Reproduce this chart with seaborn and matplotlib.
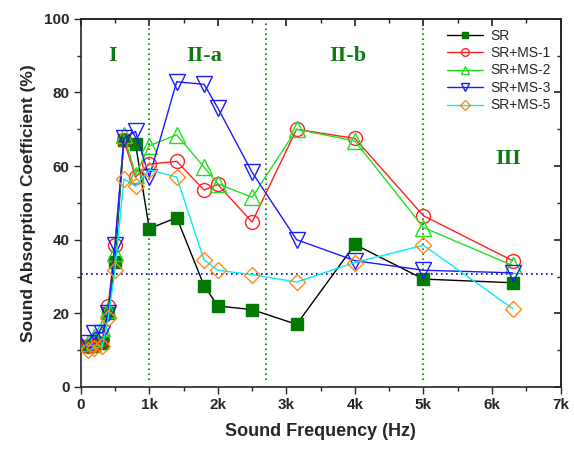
import matplotlib
matplotlib.use("Agg")
import matplotlib.pyplot as plt
import seaborn as sns
import pandas as pd
from matplotlib.ticker import MultipleLocator, FuncFormatter

freq = [100, 200, 315, 400, 500, 630, 800, 1000, 1400, 1800, 2000, 2500, 3150, 4000, 5000, 6300]
sr     = [11, 11, 12, 20, 34, 67, 66, 43, 46, 27.5, 22, 21, 17, 38.7, 29.3, 28.3]
sr_ms1 = [11, 12, 13, 22, 38.5, 67, 57, 60.5, 61.3, 53.5, 55, 44.8, 70, 67.5, 46.5, 34.3]
sr_ms2 = [12, 13.5, 16, 21, 36.4, 68.5, 57.6, 65.5, 68.5, 59.7, 55.2, 51.5, 70, 66.8, 43.3, 33]
sr_ms3 = [12, 14.7, 14.7, 20, 38.6, 67.6, 69.4, 57, 82.9, 82.2, 75.8, 58.3, 40, 34.3, 31.7, 31]
sr_ms5 = [10, 10.5, 11, 18.7, 31.8, 56.5, 54.5, 59, 57, 34.5, 31.7, 30.5, 28.5, 33.8, 38.5, 21.3]

names = ["SR", "SR+MS-1", "SR+MS-2", "SR+MS-3", "SR+MS-5"]
series = [sr, sr_ms1, sr_ms2, sr_ms3, sr_ms5]

rows = []
for n, vals in zip(names, series):
    for f, v in zip(freq, vals):
        rows.append({"freq": f, "value": v, "series": n})
df = pd.DataFrame(rows)

styles = {
    "SR":      dict(color="black",   marker="s", mfc="#007a00", mec="#007a00", ms=8),
    "SR+MS-1": dict(color="#ff2020", marker="o", mfc="none",    mec="#ff2020", ms=10),
    "SR+MS-2": dict(color="#20e020", marker="^", mfc="none",    mec="#20e020", ms=11),
    "SR+MS-3": dict(color="#1a1aff", marker="v", mfc="none",    mec="#1a1aff", ms=11),
    "SR+MS-5": dict(color="#00f0f0", marker="D", mfc="none",    mec="#ff8a1a", ms=8.5),
}

sns.set_theme(style="ticks")
plt.rcParams["font.family"] = ["Liberation Sans", "DejaVu Sans"]

fig = plt.figure(figsize=(5.74, 4.59), dpi=100)
ax = fig.add_axes([0.1406, 0.157, 0.836, 0.802])

# reference lines
for xv in [1000, 2700, 5000]:
    ax.axvline(xv, ymin=0.02, ymax=1, color="#008000", linestyle=(0, (1, 2)), lw=1.2, zorder=1)
ax.hlines(30.8, 0, 6930, color="#0000cc", linestyle=(0, (1, 2)), lw=1.2, zorder=1)

for n in names:
    s = styles[n]
    sub = df[df["series"] == n]
    sns.lineplot(data=sub, x="freq", y="value", ax=ax, color=s["color"], lw=1.0,
                 marker=s["marker"], markerfacecolor=s["mfc"], markeredgecolor=s["mec"],
                 markeredgewidth=1.0, markersize=s["ms"], label=n, zorder=3)

ax.set_xlim(0, 7000)
ax.set_ylim(0, 100)
ax.xaxis.set_major_locator(MultipleLocator(1000))
ax.xaxis.set_minor_locator(MultipleLocator(500))
ax.yaxis.set_major_locator(MultipleLocator(20))
ax.yaxis.set_minor_locator(MultipleLocator(10))
ax.xaxis.set_major_formatter(FuncFormatter(lambda v, p: "0" if v == 0 else f"{int(v/1000)}k"))
ax.tick_params(which="major", direction="out", length=5, width=1, labelsize=11, pad=3)
ax.tick_params(which="minor", direction="out", length=3, width=1)
for lab in ax.get_xticklabels() + ax.get_yticklabels():
    lab.set_fontweight("bold")

for sp in ax.spines.values():
    sp.set_linewidth(1.2)
    sp.set_visible(True)

secx = ax.secondary_xaxis("top")
secx.xaxis.set_major_locator(MultipleLocator(1000))
secx.xaxis.set_minor_locator(MultipleLocator(500))
secx.tick_params(which="major", direction="in", length=5, labeltop=False)
secx.tick_params(which="minor", direction="in", length=3)
secy = ax.secondary_yaxis("right")
secy.yaxis.set_major_locator(MultipleLocator(20))
secy.yaxis.set_minor_locator(MultipleLocator(10))
secy.tick_params(which="major", direction="in", length=5, labelright=False)
secy.tick_params(which="minor", direction="in", length=3)

ax.set_xlabel("Sound Frequency (Hz)", fontsize=13, fontweight="bold", labelpad=8)
ax.set_ylabel("Sound Absorption Coefficient (%)", fontsize=12.5, fontweight="bold", labelpad=6)

tkw = dict(color="#107a10", fontsize=16, fontweight="bold", family=["Liberation Serif", "DejaVu Serif"],
           ha="center", va="center")
ax.text(460, 90, "I", **tkw)
ax.text(1800, 90, "II-a", **tkw)
ax.text(3900, 90, "II-b", **tkw)
ax.text(6230, 62, "III", **tkw)

leg = ax.legend(loc="upper right", frameon=False, fontsize=10, markerscale=0.55,
                handlelength=2.6, labelspacing=0.25, borderaxespad=0.3, handletextpad=0.5)

fig.savefig("out.png", dpi=100)
